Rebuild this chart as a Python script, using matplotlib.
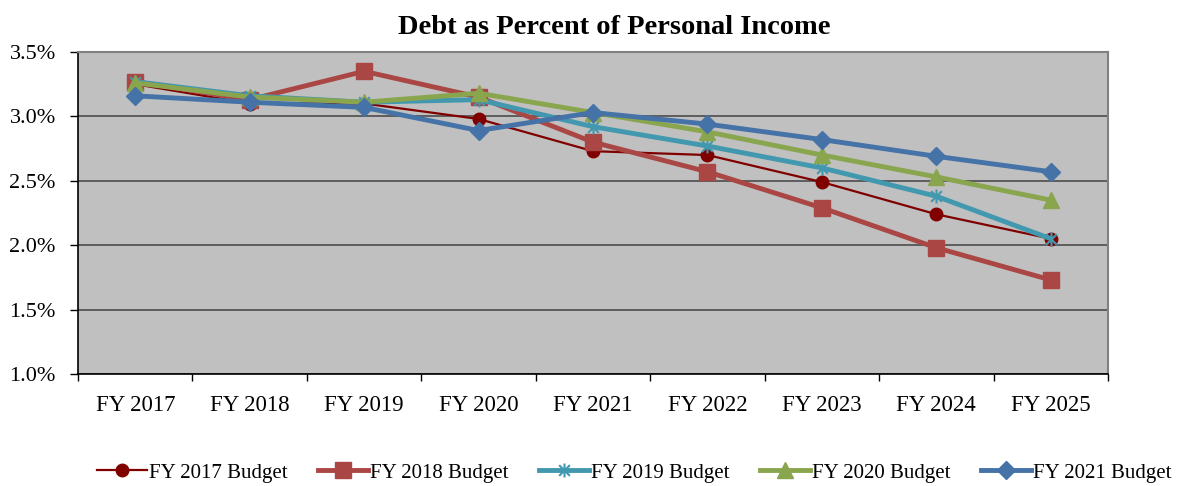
import numpy as np
import matplotlib
matplotlib.use("Agg")
import matplotlib.pyplot as plt
from matplotlib.path import Path
from matplotlib.ticker import FuncFormatter, FixedLocator

years = ['FY 2017', 'FY 2018', 'FY 2019', 'FY 2020', 'FY 2021',
         'FY 2022', 'FY 2023', 'FY 2024', 'FY 2025']

fy2017 = [3.25, 3.10, 3.10, 2.98, 2.73, 2.70, 2.49, 2.24, 2.05]
fy2018 = [3.27, 3.13, 3.35, 3.15, 2.80, 2.57, 2.29, 1.98, 1.73]
fy2019 = [3.27, 3.16, 3.11, 3.13, 2.92, 2.77, 2.60, 2.38, 2.05]
fy2020 = [3.26, 3.15, 3.11, 3.18, 3.03, 2.88, 2.70, 2.53, 2.35]
fy2021 = [3.16, 3.11, 3.07, 2.89, 3.03, 2.94, 2.82, 2.69, 2.57]

plt.rcParams['font.family'] = ['Liberation Serif', 'DejaVu Serif']

# excel style asterisk: an X with a vertical bar through it
star = Path([(-1, -1), (1, 1), (-1, 1), (1, -1), (0, -1.3), (0, 1.3)],
            [Path.MOVETO, Path.LINETO, Path.MOVETO, Path.LINETO,
             Path.MOVETO, Path.LINETO])

fig = plt.figure(figsize=(11.79, 4.86), dpi=100)
ax = fig.add_axes([0.0662, 0.2305, 0.8736, 0.6625])
ax.set_facecolor('#C0C0C0')

x = np.arange(len(years))

series = [
    ('FY 2017 Budget', fy2017, '#800000', 'o', 9, 1.6),
    ('FY 2018 Budget', fy2018, '#AA4643', 's', 11.5, 3.5),
    ('FY 2019 Budget', fy2019, '#4198AF', star, 10, 3.5),
    ('FY 2020 Budget', fy2020, '#89A54E', '^', 11.5, 3.5),
    ('FY 2021 Budget', fy2021, '#4572A7', 'D', 9.5, 3.5),
]

for label, vals, color, marker, ms, lw in series:
    ax.plot(x, vals, color=color, marker=marker, markersize=ms,
            linewidth=lw, label=label, markeredgecolor=color,
            markeredgewidth=1.5 if marker is star else 1)

ax.set_xlim(-0.5, len(years) - 0.5)
ax.set_ylim(1.0, 3.5)
ax.set_yticks(np.arange(1.0, 3.51, 0.5))
ax.yaxis.set_major_formatter(FuncFormatter(lambda v, p: f'{v:.1f}%'))
ax.set_xticks(x)
ax.set_xticklabels(years)
ax.xaxis.set_minor_locator(FixedLocator(np.arange(-0.5, len(years), 1.0)))
ax.tick_params(axis='x', which='major', length=0, pad=15, labelsize=16.5)
ax.tick_params(axis='x', which='minor', length=5, width=1, direction='out')
ax.tick_params(axis='y', length=6, width=1, direction='out', labelsize=16,
               pad=10)

ax.grid(axis='y', color='#555555', linewidth=1.3)
ax.set_axisbelow(True)
for side in ['top', 'right']:
    ax.spines[side].set_color('#808080')
    ax.spines[side].set_linewidth(1.5)
for side in ['left', 'bottom']:
    ax.spines[side].set_color('black')
    ax.spines[side].set_linewidth(1.2)

fig.suptitle('Debt as Percent of Personal Income', fontsize=20.5,
             fontweight='bold', x=0.521, y=0.97)

fig.legend(loc='center', bbox_to_anchor=(0.538, 0.027), ncol=5,
           frameon=False, fontsize=15, handlelength=2.4,
           handletextpad=0.1, columnspacing=1.45)

fig.savefig('out.png', dpi=100)
